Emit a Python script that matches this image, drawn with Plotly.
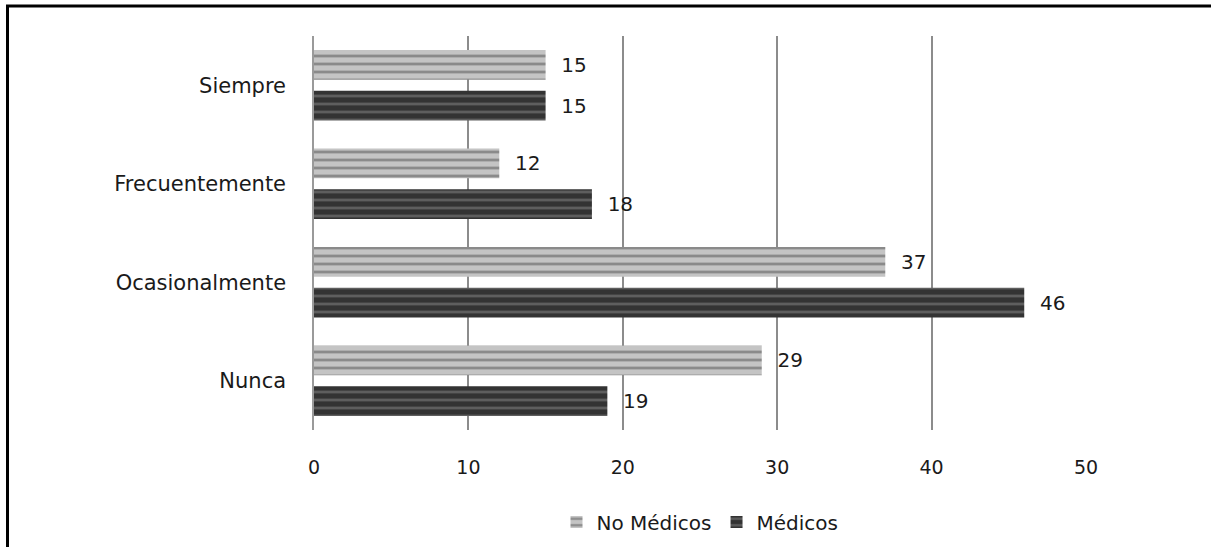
import plotly.graph_objects as go

categories = ["Nunca", "Ocasionalmente", "Frecuentemente", "Siempre"]
no_medicos = [29, 37, 12, 15]
medicos = [19, 46, 18, 15]
x_ticks = [0, 10, 20, 30, 40, 50]

FONT = "DejaVu Sans, sans-serif"
PAD = "\u00a0\u00a0"

fig = go.Figure()
fig.add_trace(go.Bar(
    y=categories, x=medicos, orientation="h", name="Médicos",
    text=[PAD + str(v) for v in medicos], textposition="outside",
    textfont=dict(size=20, color="#1a1a1a", family=FONT),
    marker=dict(color="#3a3a3a", line=dict(width=0),
                pattern=dict(shape="-", fgcolor="#5e5e5e", bgcolor="#333333",
                             size=8, solidity=0.35, fillmode="replace")),
    cliponaxis=False,
))
fig.add_trace(go.Bar(
    y=categories, x=no_medicos, orientation="h", name="No Médicos",
    text=[PAD + str(v) for v in no_medicos], textposition="outside",
    textfont=dict(size=20, color="#1a1a1a", family=FONT),
    marker=dict(color="#b8b8b8", line=dict(width=0),
                pattern=dict(shape="-", fgcolor="#8a8a8a", bgcolor="#c4c4c4",
                             size=8, solidity=0.35, fillmode="replace")),
    cliponaxis=False,
))

W, H = 1211, 547
L, T = 314, 36
plot_right, plot_bottom = 1086, 430
R = W - plot_right
B = H - plot_bottom
pw, ph = plot_right - L, plot_bottom - T

def px(xs):
    return (xs - L) / pw

def py(ys):
    return (plot_bottom - ys) / ph

fig.update_layout(
    width=W, height=H,
    margin=dict(l=L, r=R, t=T, b=B, autoexpand=False),
    paper_bgcolor="white", plot_bgcolor="white",
    barmode="group", bargap=0.17, bargroupgap=0.27,
    font=dict(family=FONT, size=19, color="#1a1a1a"),
    xaxis=dict(range=[0, 50], tickvals=x_ticks, showgrid=True,
               gridcolor="#8c8c8c", gridwidth=1.5, zeroline=False,
               showline=False, ticks="", ticklabelstandoff=24,
               tickfont=dict(size=19, color="#1a1a1a")),
    yaxis=dict(categoryorder="array", categoryarray=categories,
               showgrid=False, zeroline=False, showline=True,
               linecolor="#9a9a9a", linewidth=1.5, ticks="",
               ticklabelstandoff=22, tickfont=dict(size=21, color="#1a1a1a")),
    legend=dict(orientation="h", x=0.5, xanchor="center", y=py(522),
                yanchor="middle", traceorder="reversed",
                font=dict(size=20, color="#1a1a1a"), itemwidth=30),
    showlegend=True,
    shapes=[dict(type="rect", xref="paper", yref="paper",
                 x0=px(7.5), x1=px(1230), y0=py(6), y1=py(570),
                 line=dict(color="black", width=3), fillcolor="rgba(0,0,0,0)",
                 layer="above")],
)

fig.write_html("out.html",
               config={"displayModeBar": False},
               post_script="document.body.style.margin='0';document.body.style.overflow='hidden';")
